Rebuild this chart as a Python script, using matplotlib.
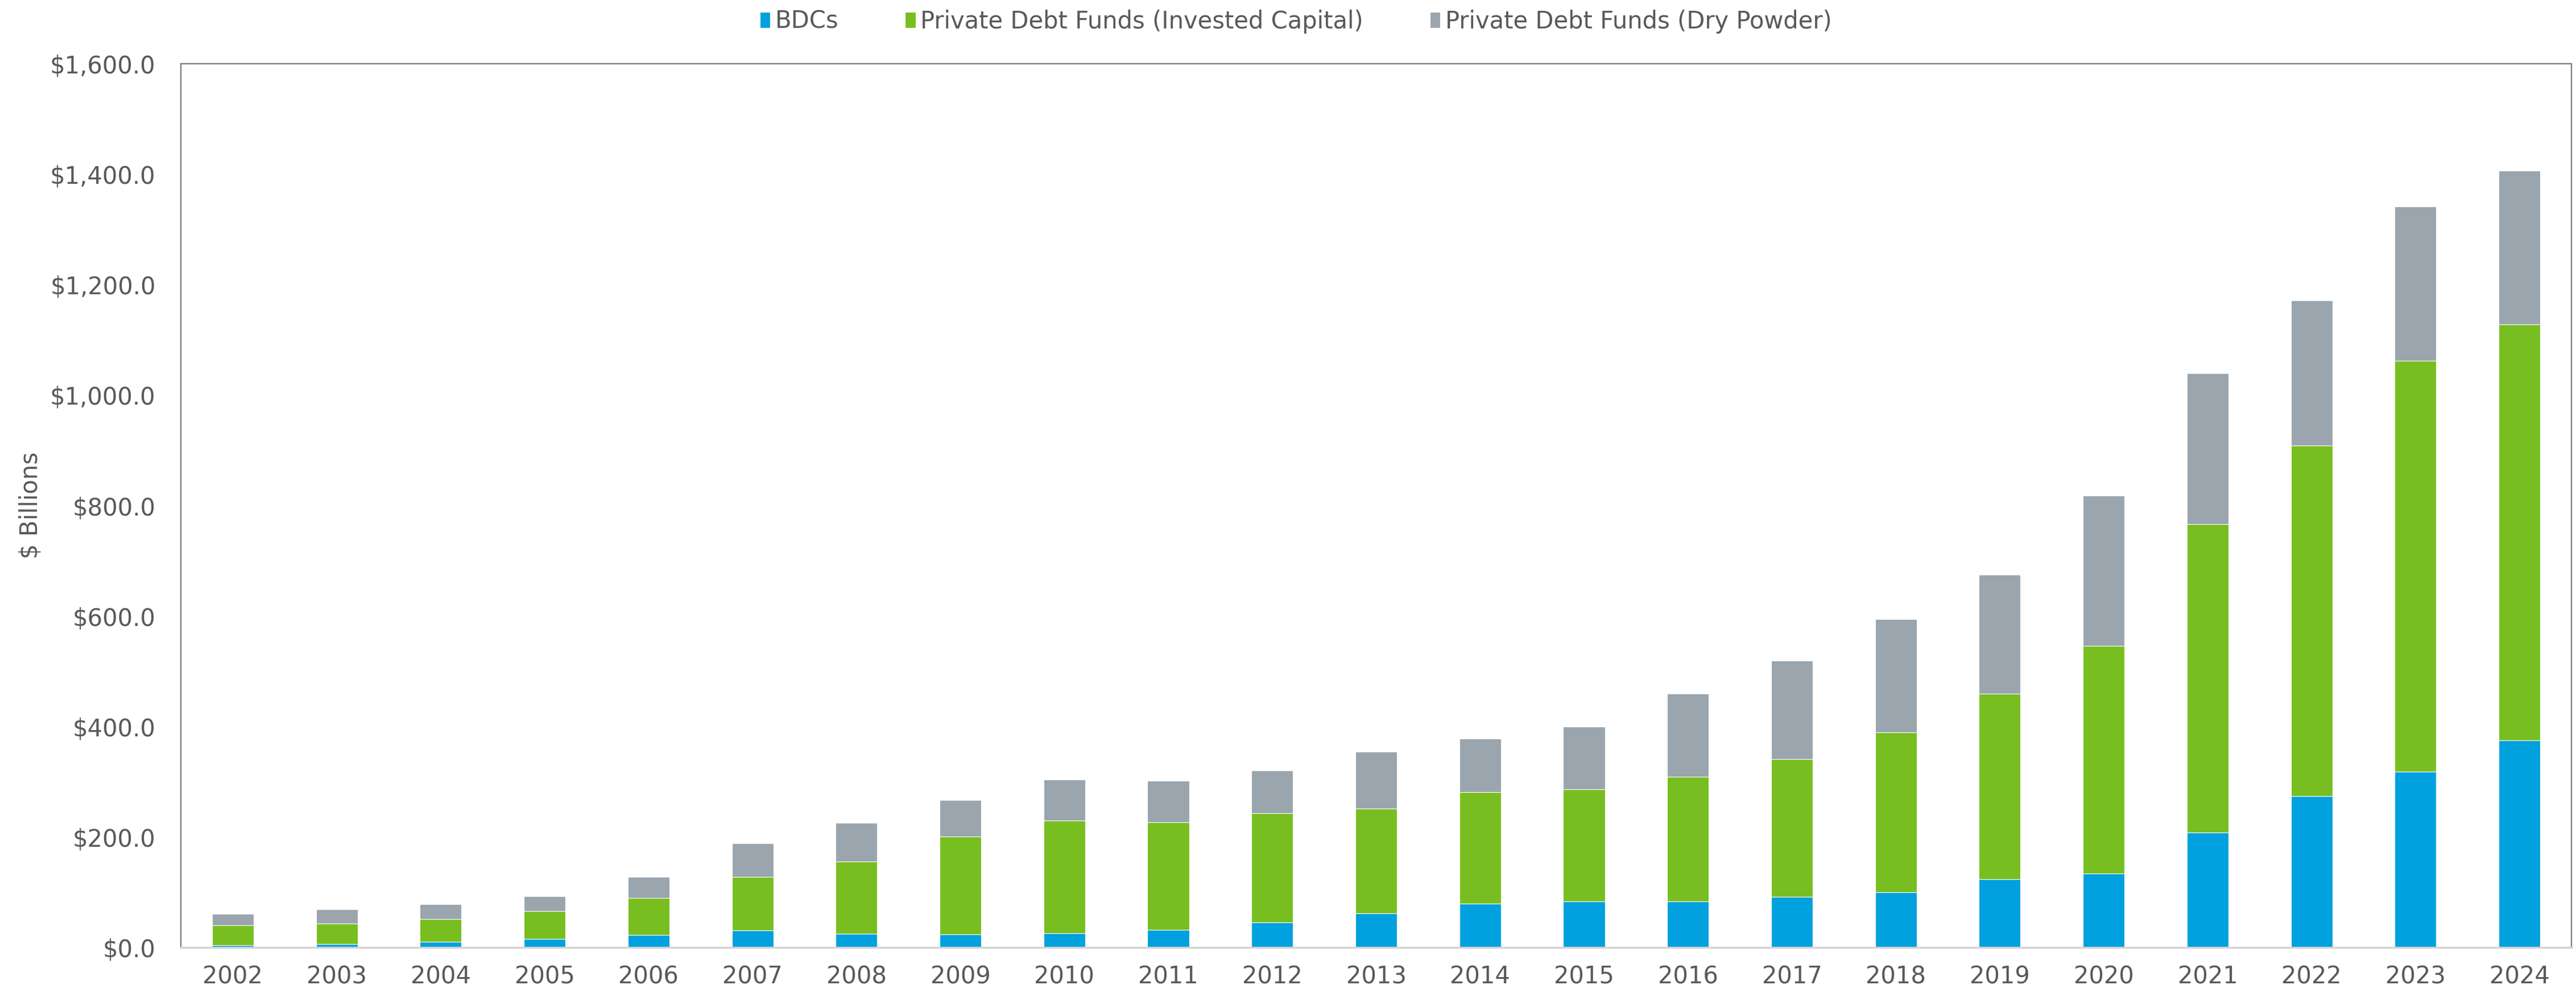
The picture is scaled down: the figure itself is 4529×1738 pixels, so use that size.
import matplotlib
matplotlib.use("Agg")
import matplotlib.pyplot as plt
from matplotlib.ticker import FuncFormatter
import numpy as np

plt.rcParams['font.family'] = ['DejaVu Sans']

years = [str(y) for y in range(2002, 2025)]

# $ billions
bdcs = [4.5, 5.9, 10.5, 15.4, 22.7, 31, 25, 23.8, 26, 31.8, 45, 62, 78.9, 83.1,
        83.1, 92, 100.4, 123.4, 134, 207.6, 273.6, 318.5, 375]
invested_top = [40, 43, 52, 66, 90, 128, 156, 201, 230, 226.6, 243, 251.5, 281.6,
                286.4, 308.6, 341, 389, 460, 546, 767, 909, 1062, 1128]
total = [61, 68.8, 78.6, 93, 128, 189, 226, 267, 304, 301.7, 320.8, 354.7, 378,
         400, 459, 519, 594, 675, 818, 1040, 1171, 1341, 1406]

invested = [t - b for t, b in zip(invested_top, bdcs)]
dry_powder = [t - i for t, i in zip(total, invested_top)]

blue = "#00A1DE"
green = "#78BE20"
grey = "#9AA5AE"
text_col = "#595959"
fs = 30

fig = plt.figure(figsize=(45.29, 17.38), dpi=100)
ax = fig.add_axes([318 / 4529, 1 - 1665 / 1738, (4521 - 318) / 4529, (1665 - 112) / 1738])

x = np.arange(len(years))
w = 0.4
ax.bar(x, bdcs, w, color=blue, edgecolor="white", linewidth=0.8, label="BDCs")
ax.bar(x, invested, w, bottom=bdcs, color=green, edgecolor="white", linewidth=0.8,
       label="Private Debt Funds (Invested Capital)")
ax.bar(x, dry_powder, w, bottom=invested_top, color=grey, edgecolor="white", linewidth=0.8,
       label="Private Debt Funds (Dry Powder)")

ax.set_xlim(-0.5, len(years) - 0.5)
ax.set_ylim(0, 1600)
ax.set_yticks(np.arange(0, 1601, 200))
ax.yaxis.set_major_formatter(FuncFormatter(lambda v, p: "${:,.1f}".format(v)))
ax.set_xticks(x)
ax.set_xticklabels(years)
ax.tick_params(axis="y", length=0, pad=32, labelsize=fs, labelcolor=text_col)
ax.tick_params(axis="x", length=0, pad=22, labelsize=fs, labelcolor=text_col)

for s in ["left", "top", "right"]:
    ax.spines[s].set_color("#7a7a7a")
    ax.spines[s].set_linewidth(1.6)
ax.spines["bottom"].set_color("#d4d4d4")
ax.spines["bottom"].set_linewidth(2.5)

ax.set_ylabel("$ Billions", fontsize=fs, color=text_col)
ax.yaxis.set_label_coords(-0.058, 0.5)

fig.legend(loc="center", bbox_to_anchor=(0.503, 1 - 38 / 1738), ncol=3, frameon=False,
           fontsize=fs, labelcolor=text_col, handlelength=0.45, handleheight=0.65,
           handletextpad=0.2, columnspacing=2.8)

fig.savefig("out.png", dpi=100)
